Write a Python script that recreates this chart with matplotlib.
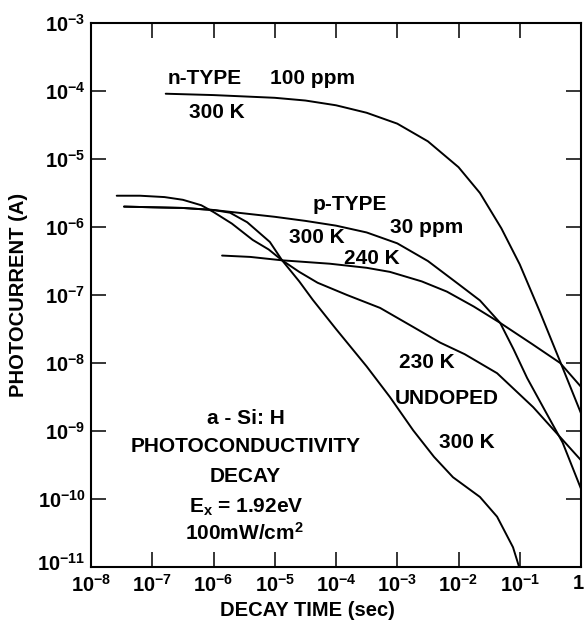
import numpy as np
import matplotlib
matplotlib.use('Agg')
import matplotlib.pyplot as plt
from matplotlib.ticker import FixedLocator, NullLocator, FixedFormatter
from matplotlib.transforms import offset_copy

plt.rcParams['font.family'] = ['Liberation Sans', 'DejaVu Sans']
plt.rcParams['font.weight'] = 'bold'
plt.rcParams['mathtext.fontset'] = 'custom'
plt.rcParams['mathtext.rm'] = 'Liberation Sans:bold'
plt.rcParams['mathtext.bf'] = 'Liberation Sans:bold'
plt.rcParams['mathtext.it'] = 'Liberation Sans:bold'

# curves, as log10(time / s) and log10(current / A)
ntype_t = [-6.78, -6.0, -5.5, -5.0, -4.5, -4.0, -3.5, -3.0, -2.5, -2.0,
           -1.65, -1.3, -1.0, -0.67, -0.34, 0.0]
ntype_i = [-4.04, -4.06, -4.08, -4.10, -4.14, -4.21, -4.32, -4.48, -4.74, -5.12,
           -5.50, -6.02, -6.55, -7.25, -7.98, -8.74]

p300_t = [-7.46, -7.0, -6.5, -6.0, -5.5, -5.0, -4.5, -4.0, -3.5, -3.0, -2.5,
          -2.0, -1.65, -1.32, -1.1, -0.88, -0.6, -0.3, 0.0]
p300_i = [-5.70, -5.71, -5.72, -5.75, -5.80, -5.85, -5.91, -5.98, -6.08, -6.24, -6.50,
          -6.84, -7.08, -7.41, -7.80, -8.22, -8.68, -9.17, -9.85]

p240_t = [-5.86, -5.4, -4.88, -4.1, -3.5, -3.12, -2.6, -2.19, -1.75, -1.32,
          -0.8, -0.34, 0.0]
p240_i = [-6.42, -6.44, -6.49, -6.54, -6.60, -6.66, -6.80, -6.95, -7.17, -7.41,
          -7.72, -8.0, -8.35]

u300_t = [-7.58, -7.2, -6.8, -6.5, -6.2, -6.0, -5.7, -5.36, -5.1, -4.88, -4.6,
          -4.38, -4.0, -3.5, -3.12, -2.74, -2.4, -2.09, -1.65, -1.37, -1.11, -1.01]
u300_i = [-5.54, -5.54, -5.56, -5.60, -5.68, -5.78, -5.95, -6.19, -6.33, -6.49, -6.80,
          -7.07, -7.50, -8.05, -8.50, -8.99, -9.38, -9.68, -9.97, -10.26, -10.71, -11.0]

u230_t = [-7.46, -7.0, -6.5, -6.0, -5.73, -5.45, -5.08, -4.88, -4.6, -4.3, -3.82,
          -3.28, -2.74, -2.3, -1.9, -1.37, -0.78, -0.29, 0.0]
u230_i = [-5.70, -5.71, -5.72, -5.75, -5.79, -5.93, -6.22, -6.49, -6.66, -6.82, -7.00,
          -7.19, -7.47, -7.70, -7.87, -8.15, -8.65, -9.14, -9.43]

xticks = [1e-8, 1e-7, 1e-6, 1e-5, 1e-4, 1e-3, 1e-2, 1e-1, 1]
xlabels = ['$10^{-8}$', '$10^{-7}$', '$10^{-6}$', '$10^{-5}$', '$10^{-4}$',
           '$10^{-3}$', '$10^{-2}$', '$10^{-1}$', '1']
yticks = [1e-11, 1e-10, 1e-9, 1e-8, 1e-7, 1e-6, 1e-5, 1e-4, 1e-3]
ylabels = ['$10^{-11}$', '$10^{-10}$', '$10^{-9}$', '$10^{-8}$', '$10^{-7}$',
           '$10^{-6}$', '$10^{-5}$', '$10^{-4}$', '$10^{-3}$']

fig = plt.figure(figsize=(5.85, 6.21), dpi=100, facecolor='white')
ax = fig.add_axes([91/585, 1-567/621, 490/585, 544/621])

for t, i in [(ntype_t, ntype_i), (p300_t, p300_i), (p240_t, p240_i),
             (u300_t, u300_i), (u230_t, u230_i)]:
    ax.plot(np.power(10.0, t), np.power(10.0, i), color='black', lw=1.4,
            solid_capstyle='round', solid_joinstyle='round')

ax.set_xscale('log')
ax.set_yscale('log')
ax.set_xlim(1e-8, 1)
ax.set_ylim(1e-11, 1e-3)
ax.xaxis.set_major_locator(FixedLocator(xticks))
ax.xaxis.set_major_formatter(FixedFormatter(xlabels))
ax.yaxis.set_major_locator(FixedLocator(yticks))
ax.yaxis.set_major_formatter(FixedFormatter(ylabels))
ax.xaxis.set_minor_locator(NullLocator())
ax.yaxis.set_minor_locator(NullLocator())
ax.tick_params(which='major', direction='in', length=11, width=1.1,
               top=True, right=True, labelsize=14.5)
ax.tick_params(axis='x', pad=5)
ax.tick_params(axis='y', pad=4)
for s in ax.spines.values():
    s.set_linewidth(1.5)

# nudge the two corner labels so they stay clear of each other / the edge
yt = ax.yaxis.get_major_ticks()
xt = ax.xaxis.get_major_ticks()
yt[0].label1.set_transform(offset_copy(yt[0].label1.get_transform(), fig, x=0, y=5, units='dots'))
xt[-1].label1.set_horizontalalignment('right')
xt[-1].label1.set_transform(offset_copy(xt[-1].label1.get_transform(), fig, x=3, y=0, units='dots'))

fs = 15
lbl = dict(transform=fig.transFigure, ha='center', va='center', fontsize=fs,
           fontweight='bold')
def put(px, py, s, **kw):
    d = dict(lbl); d.update(kw)
    fig.text(px/585, 1-py/621, s, **d)

put(205, 78, 'n-TYPE')
put(312, 78, '100 ppm')
put(217, 112, '300 K')
put(350, 205, 'p-TYPE')
put(427, 227, '30 ppm')
put(317, 238, '300 K')
put(372, 258, '240 K')
put(427, 363, '230 K')
put(447, 399, 'UNDOPED')
put(467, 443, '300 K')
put(246, 418, 'a - Si: H')
put(246, 446, 'PHOTOCONDUCTIVITY')
put(245, 476, 'DECAY')
put(246, 507, r'E$_\mathbf{x}$ = 1.92eV')
put(244, 533, r'100mW/cm$^\mathbf{2}$')

put(19, 295, 'PHOTOCURRENT (A)', rotation=90, fontsize=14.5)
put(307, 611, 'DECAY TIME (sec)', fontsize=14.5)

fig.savefig('out.png', dpi=100, facecolor='white')
